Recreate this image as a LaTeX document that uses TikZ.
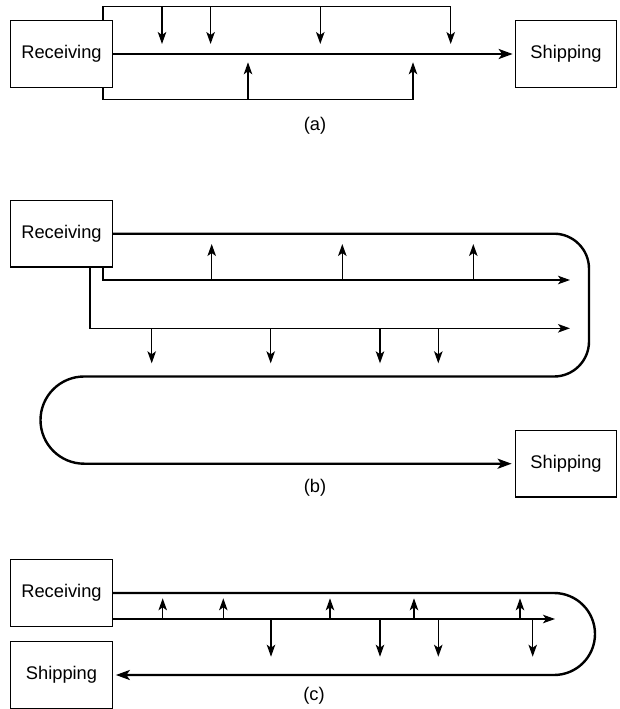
\documentclass[tikz,border=0pt]{standalone}
\usepackage{fontspec}
\setmainfont{Liberation Sans}
\usetikzlibrary{arrows.meta}
\begin{document}
\begin{tikzpicture}[x=1pt,y=-1pt,
  box/.style={draw,line width=1.2pt,minimum width=101.5pt,minimum height=66.6pt,inner sep=0pt,
    font=\fontsize{18.3}{20}\selectfont},
  lbl/.style={font=\fontsize{18.3}{20}\selectfont,inner sep=0pt},
  bus/.style={line width=1.3pt},
  tarrow/.style={line width=1.3pt,-{Stealth[length=12pt,width=8.5pt,inset=3pt]}},
  mainline/.style={line width=2.4pt},
  marrow/.style={line width=2.4pt,-{Stealth[length=14pt,width=10pt,inset=3.5pt]}}]
\useasboundingbox[fill=white] (0,0) rectangle (620,709);

% ---------------- (a)
\node[box] (Ra) at (61.5,54) {Receiving};
\node[box] (Sa) at (566,54) {Shipping};
\node[lbl] (la) at (315,126) {(a)};
\coordinate (a1) at (162,6.7);
\coordinate (a2) at (210.6,6.7);
\coordinate (a3) at (320.3,6.7);
\coordinate (a4) at (450.7,6.7);
\coordinate (a1e) at (162,44);
\coordinate (a2e) at (210.6,44);
\coordinate (a3e) at (320.3,44);
\coordinate (a4e) at (450.7,44);
\coordinate (b1) at (248,99.3);
\coordinate (b2) at (413,99.3);
\coordinate (b1e) at (248,62.3);
\coordinate (b2e) at (413,62.3);
\draw[marrow,shorten >=2pt] (Ra.east) -- (Sa.west);
\draw[tarrow] ([xshift=-10pt]Ra.north east) |- (a4) -- (a4e);
\draw[tarrow] (a1) -- (a1e);
\draw[tarrow] (a2) -- (a2e);
\draw[tarrow] (a3) -- (a3e);
\draw[tarrow] ([xshift=-10pt]Ra.south east) |- (b2) -- (b2e);
\draw[tarrow] (b1) -- (b1e);

% ---------------- (b)
\node[box] (Rb) at (61.5,233.7) {Receiving};
\node[box] (Sb) at (566,463.7) {Shipping};
\node[lbl] (lb) at (315,488) {(b)};
\coordinate (c1) at (589,233.7);
\coordinate (c2) at (589,376.5);
\coordinate (c3) at (40.5,376.5);
\coordinate (c4) at (40.5,463.7);
\draw[marrow,shorten >=3pt,rounded corners=35pt] (Rb.east) -- (c1) -- (c2) [rounded corners=43.6pt] -- (c3) -- (c4) -- (Sb.west);
\coordinate (u1end) at (570,280);
\coordinate (l1end) at (570,328.3);
\draw[tarrow] ([xshift=-10pt]Rb.south east) |- (u1end);
\draw[tarrow] ([xshift=-23pt]Rb.south east) |- (l1end);
\foreach \x/\n in {211.7/1,342.3/2,473.3/3}{
  \coordinate (bu\n) at (\x,280);
  \coordinate (bu\n e) at (\x,244);
  \draw[tarrow] (bu\n) -- (bu\n e);
}
\foreach \x/\n in {151.7/1,270.7/2,380/3,438.3/4}{
  \coordinate (bd\n) at (\x,328.3);
  \coordinate (bd\n e) at (\x,363.3);
  \draw[tarrow] (bd\n) -- (bd\n e);
}

% ---------------- (c)
\node[box] (Rc) at (61.5,593) {Receiving};
\node[box] (Sc) at (61.5,675) {Shipping};
\node[lbl] (lc) at (314,696) {(c)};
\coordinate (d1) at (595,593);
\coordinate (d2) at (595,675);
\draw[marrow,shorten >=3pt,rounded corners=41pt] (Rc.east) -- (d1) -- (d2) -- (Sc.east);
\coordinate (tend) at (555,619);
\draw[tarrow] ([yshift=-26pt]Rc.east) -- (tend);
\foreach \x/\n in {162.7/1,223.3/2,330/3,414/4,520/5}{
  \coordinate (cu\n) at (\x,619);
  \coordinate (cu\n e) at (\x,598.3);
  \draw[tarrow] (cu\n) -- (cu\n e);
}
\foreach \x/\n in {271/1,380/2,438.3/3,532.7/4}{
  \coordinate (cd\n) at (\x,619);
  \coordinate (cd\n e) at (\x,656.7);
  \draw[tarrow] (cd\n) -- (cd\n e);
}
\end{tikzpicture}
\end{document}
